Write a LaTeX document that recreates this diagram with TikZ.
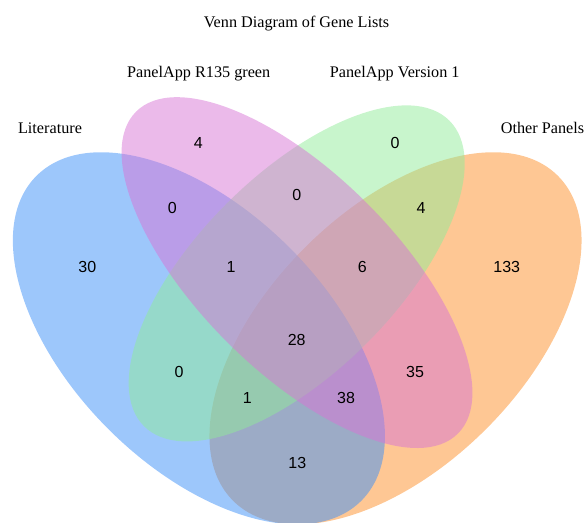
\documentclass[tikz,border=0pt]{standalone}
\usepackage{fontspec}
\setmainfont{Liberation Serif}
\newfontfamily\numfont{Liberation Sans}
\definecolor{vblue}{RGB}{60,143,248}
\definecolor{vpink}{RGB}{215,117,213}
\definecolor{vgreen}{RGB}{145,235,153}
\definecolor{vorange}{RGB}{253,143,41}
\begin{document}
\begin{tikzpicture}[x=1pt,y=1pt,
  setfill/.style={fill=#1, fill opacity=0.5},
  lab/.style={font=\fontsize{16.2}{19}\selectfont, inner sep=0pt, anchor=base},
  num/.style={font=\numfont\fontsize{16}{19}\selectfont, inner sep=0pt, anchor=base}]
\useasboundingbox (0,0) rectangle (585,522);
\begin{scope}
\clip (0,0) rectangle (585,522);
\fill[setfill=vorange, rotate around={45:(395.5,183.7)}] (395.5,183.7) ellipse [x radius=229.7pt, y radius=128.2pt];
\fill[setfill=vblue, rotate around={-45:(198.9,183.7)}] (198.9,183.7) ellipse [x radius=229.7pt, y radius=128.2pt];
\fill[setfill=vgreen, rotate around={45:(296.7,248.6)}] (296.7,248.6) ellipse [x radius=216pt, y radius=98.9pt];
\fill[setfill=vpink, rotate around={-45:(297,249.4)}] (297,249.4) ellipse [x radius=227.6pt, y radius=98.5pt];
\end{scope}
% titles
\node[lab] (title) at (296.5,494.9) {Venn Diagram of Gene Lists};
\node[lab] (lpink) at (198.7,444.9) {PanelApp R135 green};
\node[lab] (lgreen) at (394.7,444.9) {PanelApp Version 1};
\node[lab] (lblue) at (50,388.3) {Literature};
\node[lab] (lorange) at (542.5,388.3) {Other Panels};
% counts
\node[num] (n30) at (87.3,249.6) {30};
\node[num] (nbp) at (172.3,308) {0};
\node[num] (nbpg) at (231,249.6) {1};
\node[num] (np) at (198.3,373) {4};
\node[num] (ng) at (395,373.6) {0};
\node[num] (npg) at (296.7,321.3) {0};
\node[num] (ngo) at (421,308) {4};
\node[num] (npgo) at (362.3,249.6) {6};
\node[num] (no) at (506.7,249.6) {133};
\node[num] (nall) at (296.7,177) {28};
\node[num] (nbg) at (179,144.6) {0};
\node[num] (nbgo) at (247.3,118.6) {1};
\node[num] (npo) at (415,144.6) {35};
\node[num] (nbpo) at (346,118.6) {38};
\node[num] (nbo) at (297.3,53.6) {13};
\end{tikzpicture}
\end{document}
